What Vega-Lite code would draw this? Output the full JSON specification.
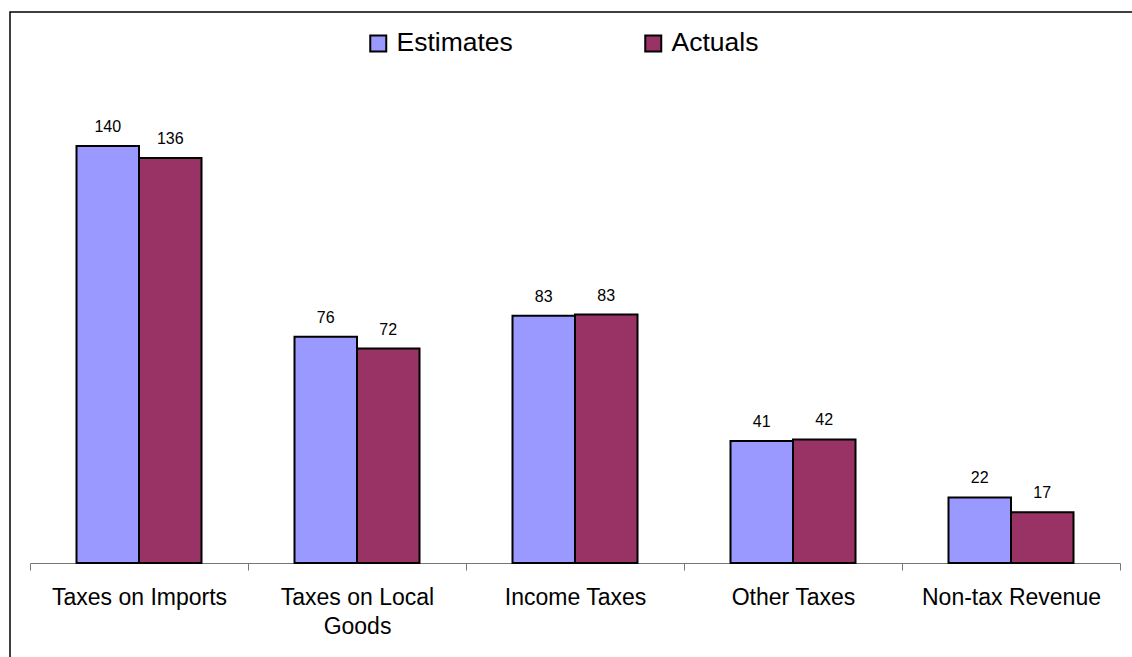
{
  "$schema": "https://vega.github.io/schema/vega-lite/v6.json",
  "autosize": {"type": "none"},
  "padding": {"left": 10, "top": 12, "right": 0, "bottom": 0},
  "width": 1140,
  "height": 660,
  "background": "white",
  "config": {
    "view": {"stroke": "black", "strokeWidth": 1.5},
    "font": "Liberation Sans"
  },
  "data": {
    "values": [
      {"category": "Taxes on Imports", "series": "Estimates", "value": 140},
      {"category": "Taxes on Imports", "series": "Actuals", "value": 136},
      {"category": "Taxes on Local Goods", "series": "Estimates", "value": 76},
      {"category": "Taxes on Local Goods", "series": "Actuals", "value": 72},
      {"category": "Income Taxes", "series": "Estimates", "value": 83},
      {"category": "Income Taxes", "series": "Actuals", "value": 83.4},
      {"category": "Other Taxes", "series": "Estimates", "value": 41},
      {"category": "Other Taxes", "series": "Actuals", "value": 41.5},
      {"category": "Non-tax Revenue", "series": "Estimates", "value": 22},
      {"category": "Non-tax Revenue", "series": "Actuals", "value": 17}
    ]
  },
  "encoding": {
    "x": {
      "field": "category",
      "type": "nominal",
      "sort": null,
      "scale": {"range": [20, 1110], "paddingInner": 0, "paddingOuter": 0},
      "axis": {
        "title": null,
        "labelAngle": 0,
        "offset": -109,
        "tickBand": "extent",
        "tickSize": 7,
        "tickColor": "#777777",
        "domainColor": "#777777",
        "labelFontSize": 23,
        "labelFont": "Liberation Sans",
        "labelColor": "black",
        "labelPadding": 16,
        "labelLineHeight": 29,
        "labelLimit": 300,
        "labelExpr": "datum.label == 'Taxes on Local Goods' ? ['Taxes on Local', 'Goods'] : datum.label"
      }
    },
    "xOffset": {
      "field": "series",
      "type": "nominal",
      "sort": ["Estimates", "Actuals"],
      "scale": {"paddingInner": 0, "paddingOuter": 0.744}
    },
    "y": {
      "field": "value",
      "type": "quantitative",
      "scale": {"domain": [0, 140], "range": [551, 134], "nice": false, "zero": true},
      "axis": null
    }
  },
  "layer": [
    {
      "mark": {"type": "bar", "stroke": "black", "strokeWidth": 2},
      "encoding": {
        "color": {
          "field": "series",
          "type": "nominal",
          "sort": ["Estimates", "Actuals"],
          "scale": {"domain": ["Estimates", "Actuals"], "range": ["#9999FF", "#993366"]},
          "legend": {
            "title": null,
            "orient": "none",
            "legendX": 355,
            "legendY": 18,
            "direction": "horizontal",
            "columns": 2,
            "columnPadding": 127,
            "symbolType": "square",
            "symbolSize": 256,
            "symbolStrokeColor": "black",
            "symbolStrokeWidth": 2,
            "symbolOpacity": 1,
            "labelFontSize": 26.5,
            "labelFont": "Liberation Sans",
            "labelColor": "black",
            "labelOffset": 5,
            "labelLimit": 300
          }
        }
      }
    },
    {
      "mark": {"type": "text", "baseline": "alphabetic", "dy": -14, "fontSize": 16, "font": "Liberation Sans", "color": "black"},
      "encoding": {
        "text": {"field": "value", "type": "quantitative", "format": ".0f"}
      }
    }
  ]
}
